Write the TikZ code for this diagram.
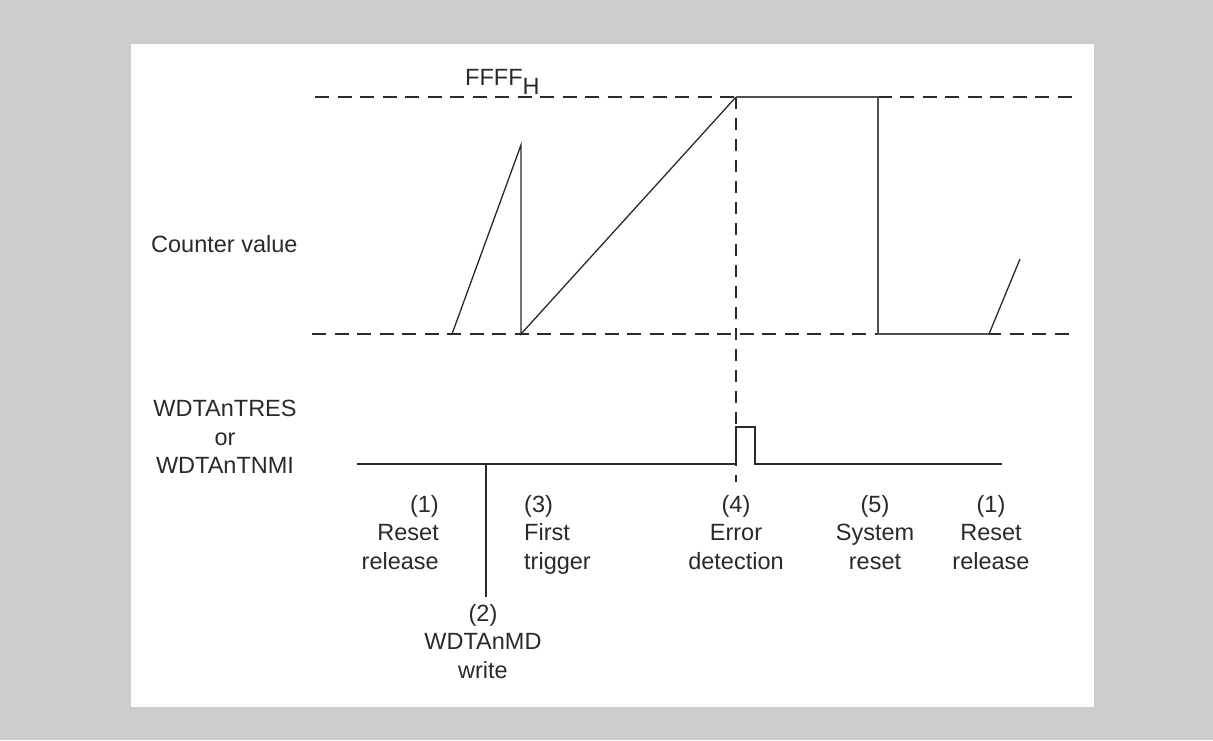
\documentclass[tikz,border=0pt]{standalone}
\usepackage{fontspec}
\setmainfont{Liberation Sans}
\definecolor{bggray}{HTML}{CCCCCC}
\definecolor{ink}{HTML}{2A2A2A}
\definecolor{inkgray}{HTML}{505050}
\begin{document}
\begin{tikzpicture}[x=1pt,y=-1pt,
  lbl/.style={inner sep=0pt,text=ink,font=\fontsize{23.5}{28.5}\selectfont},
  refdash/.style={draw=ink,line width=1.2pt,dash pattern=on 14pt off 8.5pt},
  markdash/.style={draw=ink,line width=1.8pt,dash pattern=on 12pt off 9pt},
  wave/.style={draw=ink,line width=1.3pt,line join=miter},
  wavegray/.style={draw=inkgray,line width=1.9pt},
  sig/.style={draw=ink,line width=1.3pt}]
\useasboundingbox (0,0) rectangle (1213,740);
\fill[bggray] (0,0) rectangle (1213,740);
\fill[white] (131,44) rectangle (1094,707);
% reference levels
\coordinate (topL) at (315,97);
\coordinate (topR) at (1075,97);
\coordinate (botL) at (312,334);
\coordinate (botR) at (1072,334);
\draw[refdash] (topL) -- (topR);
\draw[refdash] (botL) -- (botR);
% counter waveform
\coordinate (c0) at (452,334);
\coordinate (c1) at (521,145);
\coordinate (c2) at (521,334);
\coordinate (c3) at (736,97);
\coordinate (c4) at (878,97);
\coordinate (c5) at (878,334);
\coordinate (c6) at (989,334);
\coordinate (c7) at (1020,259);
\draw[markdash] (c3) -- (736,482) coordinate (mk);
\draw[wave] (c0) -- (c1) -- (c2) -- (c3);
\draw[wavegray] (c3) -- (c4) -- (c5) -- (c6);
\draw[wave] (c6) -- (c7);
% signal line
\coordinate (s0) at (357,464);
\coordinate (s1) at (736,464);
\coordinate (s2) at (736,427);
\coordinate (s3) at (755,427);
\coordinate (s4) at (755,464);
\coordinate (s5) at (1002,464);
\coordinate (w0) at (486,464);
\coordinate (w1) at (486,597);
\draw[sig] (s0) -- (s1) -- (s2) -- (s3) -- (s4) -- (s5);
\draw[sig] (w0) -- (w1);
% texts
\node[lbl,anchor=base west] (ffff) at (465,85) {FFFF\raisebox{-9pt}{H}};
\node[lbl,anchor=base west] (cv) at (151,252) {Counter value};
\node[lbl,anchor=north,align=center] (wdt) at (225,400) {WDTAnTRES\\or\\WDTAnTNMI};
\node[lbl,anchor=north east,align=right] (t1) at (439,495) {(1)\\Reset\\release};
\node[lbl,anchor=north west,align=left] (t3) at (524,495) {(3)\\First\\trigger};
\node[lbl,anchor=north,align=center] (t4) at (736,495) {(4)\\Error\\detection};
\node[lbl,anchor=north,align=center] (t5) at (875,495) {(5)\\System\\reset};
\node[lbl,anchor=north,align=center] (t1b) at (991,495) {(1)\\Reset\\release};
\node[lbl,anchor=north,align=center] (t2) at (483,604) {(2)\\WDTAnMD\\write};
\end{tikzpicture}
\end{document}
